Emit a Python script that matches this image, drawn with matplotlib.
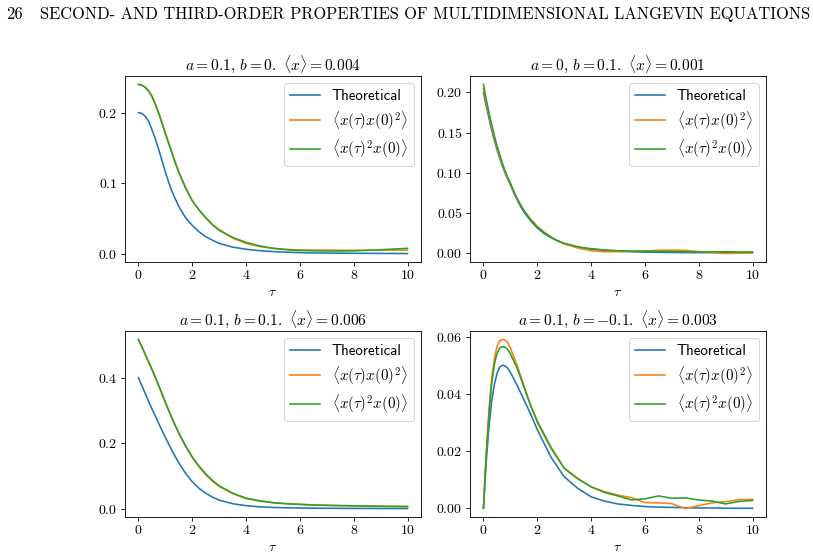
import matplotlib
matplotlib.use("Agg")
import matplotlib.pyplot as plt

# tau grids
tau = [0, 0.125, 0.25, 0.375, 0.5, 0.625, 0.75, 0.875, 1, 1.125, 1.25, 1.375, 1.5,
       1.75, 2, 2.25, 2.5, 2.75, 3, 3.5, 4, 4.5, 5, 5.5, 6, 6.5, 7, 7.5, 8, 8.5,
       9, 9.5, 10]
tau_br = [0, 0.1, 0.2, 0.3, 0.4, 0.5, 0.6, 0.7, 0.8, 0.9, 1, 1.25, 1.5, 1.75, 2,
          2.5, 3, 3.5, 4, 4.5, 5, 5.5, 6, 6.5, 7, 7.5, 8, 8.5, 9, 9.5, 10]

# a=0.1, b=0
tl_theo = [0.200, 0.199, 0.195, 0.188, 0.176, 0.163, 0.148, 0.132, 0.116, 0.101, 0.088,
           0.077, 0.067, 0.051, 0.040, 0.031, 0.024, 0.019, 0.0145, 0.0092, 0.0062,
           0.0042, 0.0029, 0.002, 0.0014, 0.001, 0.0008, 0.0006, 0.0005, 0.0004,
           0.0003, 0.0002, 0.0001]
tl_x1 = [0.240, 0.239, 0.236, 0.231, 0.224, 0.213, 0.200, 0.186, 0.171, 0.157, 0.143,
         0.129, 0.116, 0.094, 0.075, 0.062, 0.051, 0.041, 0.034, 0.022, 0.0145, 0.0100,
         0.0075, 0.006, 0.0052, 0.005, 0.005, 0.0048, 0.0047, 0.0048, 0.005, 0.005,
         0.0048]
tl_x2 = [0.240, 0.239, 0.236, 0.231, 0.223, 0.212, 0.199, 0.185, 0.170, 0.156, 0.142,
         0.128, 0.115, 0.093, 0.075, 0.062, 0.051, 0.041, 0.033, 0.023, 0.016, 0.011,
         0.0075, 0.0055, 0.0045, 0.004, 0.0037, 0.0037, 0.004, 0.0047, 0.0055,
         0.0065, 0.0075]

# a=0, b=0.1
tr_theo = [0.200, 0.180, 0.161, 0.144, 0.129, 0.116, 0.104, 0.094, 0.085, 0.075, 0.066,
           0.058, 0.051, 0.040, 0.031, 0.024, 0.019, 0.015, 0.0115, 0.007, 0.0045,
           0.003, 0.0019, 0.0013, 0.0008, 0.0005, 0.0003, 0.0002, 0.0001, 0.0001,
           0.0001, 0.0, 0.0]
tr_x1 = [0.205, 0.184, 0.165, 0.147, 0.132, 0.118, 0.106, 0.095, 0.086, 0.076, 0.067,
         0.060, 0.053, 0.042, 0.033, 0.026, 0.020, 0.015, 0.011, 0.006, 0.0025, 0.0012,
         0.0014, 0.0018, 0.0022, 0.003, 0.0032, 0.003, 0.0015, 0.0003, -0.001,
         -0.0005, 0.0]
tr_x2 = [0.210, 0.188, 0.168, 0.150, 0.134, 0.120, 0.107, 0.096, 0.087, 0.077, 0.068,
         0.060, 0.053, 0.041, 0.032, 0.025, 0.0195, 0.015, 0.0118, 0.0075, 0.005,
         0.0035, 0.0025, 0.002, 0.002, 0.0018, 0.0015, 0.0012, 0.001, 0.0012, 0.0012,
         0.001, 0.001]

# a=0.1, b=0.1
bl_theo = [0.400, 0.376, 0.352, 0.328, 0.305, 0.283, 0.261, 0.239, 0.218, 0.197, 0.177,
           0.158, 0.140, 0.108, 0.082, 0.062, 0.047, 0.035, 0.026, 0.015, 0.009,
           0.0055, 0.0035, 0.0025, 0.0018, 0.0013, 0.001, 0.0008, 0.0006, 0.0005,
           0.0004, 0.0003, 0.0002]
bl_x1 = [0.516, 0.494, 0.471, 0.448, 0.425, 0.401, 0.376, 0.350, 0.324, 0.299, 0.275,
         0.252, 0.230, 0.190, 0.156, 0.128, 0.104, 0.084, 0.068, 0.046, 0.031, 0.023,
         0.018, 0.015, 0.013, 0.011, 0.010, 0.0092, 0.0085, 0.008, 0.0075, 0.007,
         0.007]
bl_x2 = [0.517, 0.495, 0.472, 0.449, 0.426, 0.402, 0.377, 0.351, 0.325, 0.300, 0.276,
         0.253, 0.231, 0.192, 0.158, 0.130, 0.106, 0.086, 0.070, 0.047, 0.032, 0.024,
         0.018, 0.015, 0.013, 0.011, 0.010, 0.0092, 0.0085, 0.0078, 0.007, 0.0065,
         0.006]

# a=0.1, b=-0.1
br_theo = [0, 0.016, 0.028, 0.037, 0.043, 0.047, 0.0493, 0.050, 0.0498, 0.049, 0.0475,
           0.043, 0.038, 0.033, 0.0275, 0.018, 0.011, 0.007, 0.004, 0.0025, 0.0015,
           0.001, 0.0006, 0.0004, 0.0003, 0.0002, 0.0001, 0.0001, 0.0, 0.0, 0.0]
br_x1 = [0, 0.019, 0.034, 0.045, 0.052, 0.0565, 0.0585, 0.059, 0.0588, 0.058, 0.056,
         0.050, 0.043, 0.036, 0.030, 0.021, 0.014, 0.0105, 0.0075, 0.0058, 0.0046,
         0.0037, 0.002, 0.0019, 0.0016, -0.0001, 0.0009, 0.0019, 0.0023, 0.003, 0.0031]
br_x2 = [0, 0.018, 0.032, 0.043, 0.050, 0.054, 0.056, 0.0565, 0.0563, 0.0555, 0.054,
         0.049, 0.0425, 0.036, 0.0305, 0.0215, 0.014, 0.0103, 0.0075, 0.0055, 0.0043,
         0.0029, 0.0033, 0.0043, 0.0035, 0.0036, 0.0029, 0.0025, 0.0015, 0.0024, 0.0027]

titles = [r"$a = 0.1,\, b = 0.\ \langle x\rangle = 0.004$",
          r"$a = 0,\, b = 0.1.\ \langle x\rangle = 0.001$",
          r"$a = 0.1,\, b = 0.1.\ \langle x\rangle = 0.006$",
          r"$a = 0.1,\, b = -0.1.\ \langle x\rangle = 0.003$"]
yticks = [[0.0, 0.1, 0.2], [0.0, 0.05, 0.10, 0.15, 0.20],
          [0.0, 0.2, 0.4], [0.0, 0.02, 0.04, 0.06]]
yfmt = ["%.1f", "%.2f", "%.1f", "%.2f"]

plt.rcParams["font.family"] = "serif"
plt.rcParams["font.serif"] = ["cmr10"]
plt.rcParams["mathtext.fontset"] = "cm"
plt.rcParams["axes.unicode_minus"] = False
plt.rcParams["font.size"] = 12

DPI = 77
fig = plt.figure(figsize=(813 / DPI, 560 / DPI), dpi=DPI)

fig.text(6 / 813, 1 - 14 / 560, "26", fontsize=15.4, va="center", ha="left")
fig.text(40 / 813, 1 - 14 / 560,
         "SECOND- AND THIRD-ORDER PROPERTIES OF MULTIDIMENSIONAL LANGEVIN EQUATIONS",
         fontsize=15.4, va="center", ha="left")

boxes = [[125, 76], [470, 76], [125, 331], [470, 331]]
data = [(tau, tl_theo, tl_x1, tl_x2), (tau, tr_theo, tr_x1, tr_x2),
        (tau, bl_theo, bl_x1, bl_x2), (tau_br, br_theo, br_x1, br_x2)]

for i in range(4):
    left, top = boxes[i]
    ax = fig.add_axes([left / 813, 1 - (top + 186) / 560, 296 / 813, 186 / 560])
    t, th, x1, x2 = data[i]
    ax.plot(t, th, color="C0", label="Theoretical")
    ax.plot(t, x1, color="C1", label=r"$\langle x(\tau)x(0)^2\rangle$")
    ax.plot(t, x2, color="C2", label=r"$\langle x(\tau)^2x(0)\rangle$")
    ax.set_title(titles[i], fontsize=14.5)
    ax.set_xlabel(r"$\tau$", fontsize=13)
    ax.set_xticks([0, 2, 4, 6, 8, 10])
    ax.set_xticklabels(["$%d$" % v for v in [0, 2, 4, 6, 8, 10]], fontsize=13)
    ax.set_yticks(yticks[i])
    ax.set_yticklabels(["$" + yfmt[i] % v + "$" for v in yticks[i]], fontsize=13)
    ax.legend(loc="upper right", prop={"family": "cmss10", "size": 14},
              labelspacing=0.35)

plt.savefig("out.png", dpi=DPI)
